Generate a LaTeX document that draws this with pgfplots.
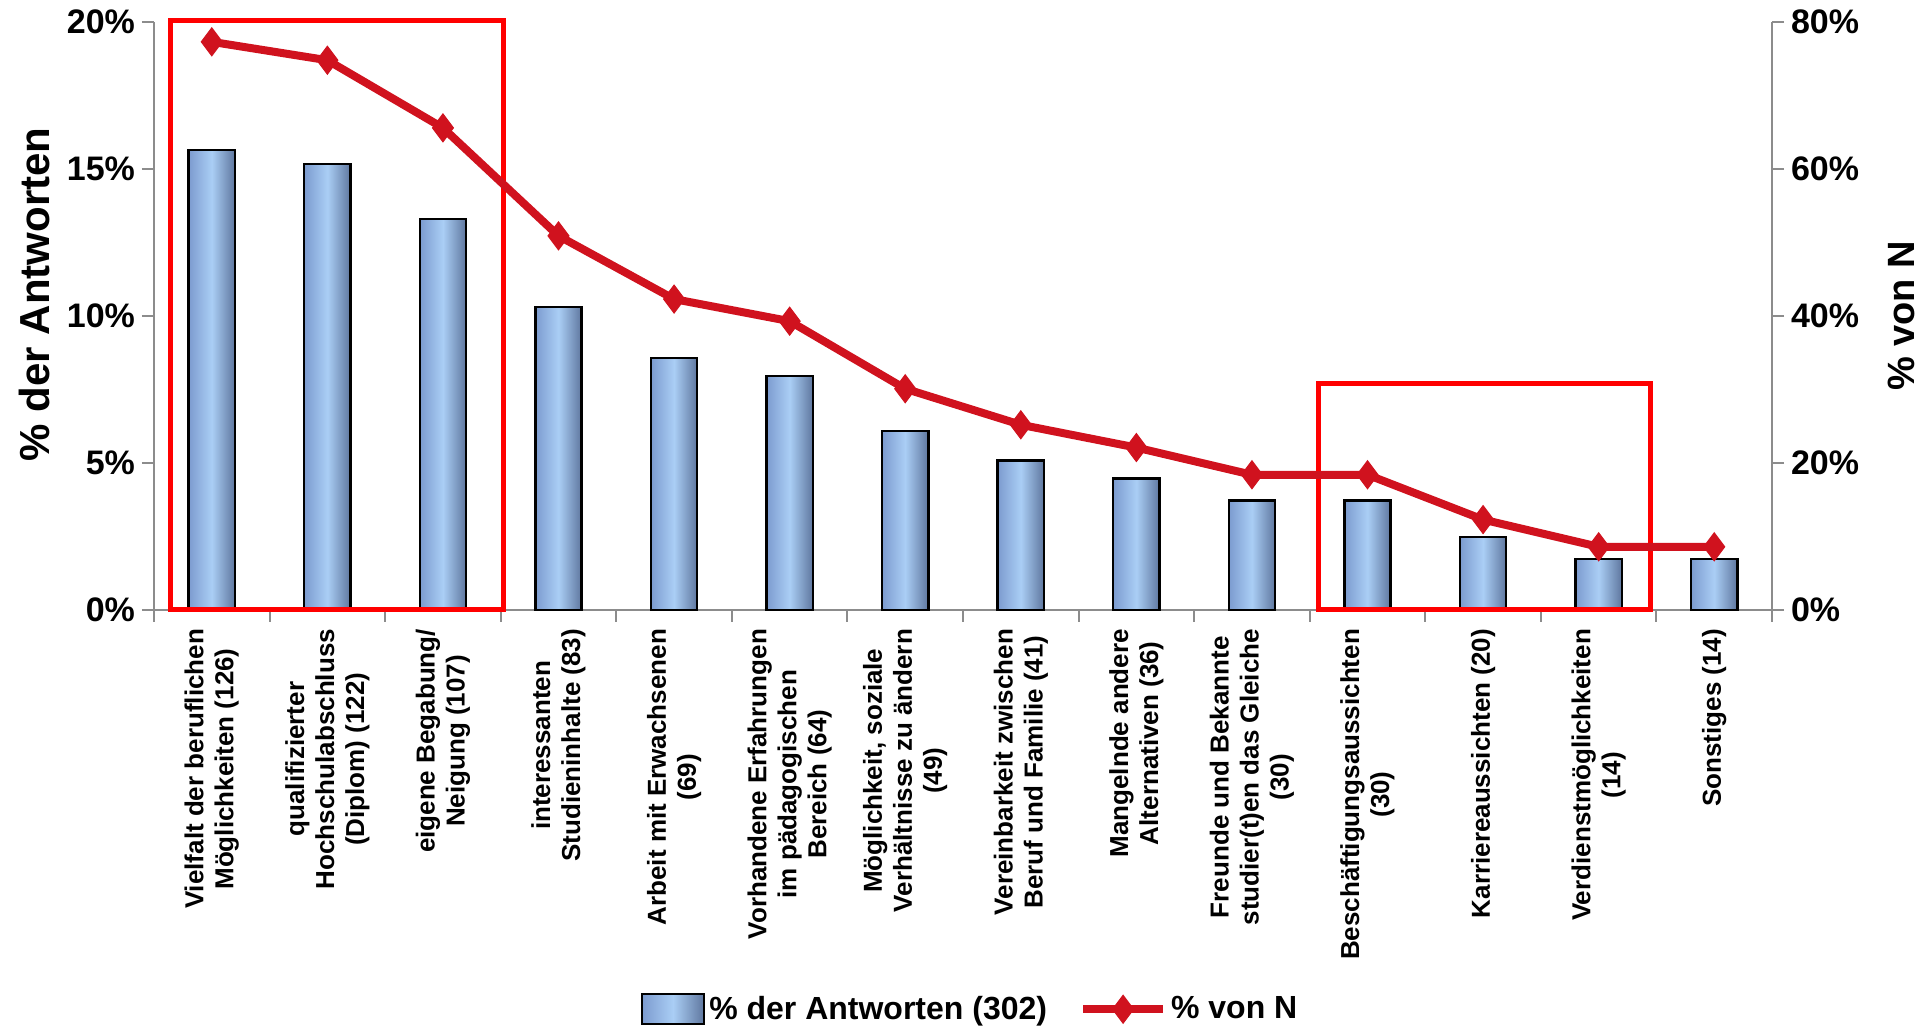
\documentclass[border=0pt]{standalone}
\usepackage{fontspec}
\setmainfont{Liberation Sans}
\usepackage{pgfplots}
\pgfplotsset{compat=1.18}
\definecolor{barL}{HTML}{7C9BCF}
\definecolor{barM}{HTML}{AACEF5}
\definecolor{barR}{HTML}{5F779F}
\definecolor{lineRed}{HTML}{D0121E}
\definecolor{axGray}{HTML}{8C8C8C}
\pgfplotsset{
  redleg/.style={legend image code/.code={\draw[mark repeat=2,mark phase=2,##1] plot coordinates {(0pt,0pt) (20pt,0pt) (40pt,0pt)};}},
  barleg/.style={legend image code/.code={\draw[draw=black, line width=1.2pt, left color=barL, right color=barR, middle color=barM] (0pt,-7.5pt) rectangle (31pt,7.5pt);}},
  mybar/.style={ybar, bar width=0.40, draw=black, line width=1.2pt, left color=barL, right color=barR, middle color=barM},
  base/.style={
    width=809pt, height=294pt, scale only axis,
    xmin=-0.5, xmax=13.5,
    axis line style={axGray, line width=1pt},
    tick style={axGray, line width=1pt},
    tick align=outside,
    major tick length=6pt,
    clip=false,
  }
}
\begin{document}
\begin{tikzpicture}
\begin{axis}[base,
  axis y line*=left, axis x line*=bottom,
  ymin=0, ymax=20,
  ytick={0,5,10,15,20},
  yticklabels={0\%,5\%,10\%,15\%,20\%},
  yticklabel style={font=\fontsize{17}{20}\selectfont\bfseries},
  xtick={0,...,13},
  major x tick style={draw=none},
  minor xtick={-0.5,0.5,...,13.5},
  minor x tick style={axGray, line width=1pt},
  minor tick length=6pt,
  xticklabels={
    {Vielfalt der beruflichen\\Möglichkeiten (126)},
    {qualifizierter\\Hochschulabschluss\\(Diplom) (122)},
    {eigene Begabung/\\Neigung (107)},
    {interessanten\\Studieninhalte (83)},
    {Arbeit mit Erwachsenen\\(69)},
    {Vorhandene Erfahrungen\\im pädagogischen\\Bereich (64)},
    {Möglichkeit, soziale\\Verhältnisse zu ändern\\(49)},
    {Vereinbarkeit zwischen\\Beruf und Familie (41)},
    {Mangelnde andere\\Alternativen (36)},
    {Freunde und Bekannte\\studier(t)en das Gleiche\\(30)},
    {Beschäftigungsaussichten\\(30)},
    {Karriereaussichten (20)},
    {Verdienstmöglichkeiten\\(14)},
    {Sonstiges (14)}},
  xticklabel style={rotate=90, anchor=east, align=center, font=\fontsize{13}{15}\selectfont\bfseries},
  ylabel={\% der Antworten},
  ylabel style={at={(axis description cs:-0.074,0.537)}, anchor=center, font=\fontsize{21}{24}\selectfont\bfseries},
]
\addplot[mybar] coordinates {(0,15.65)};
\addplot[mybar] coordinates {(1,15.16)};
\addplot[mybar] coordinates {(2,13.29)};
\addplot[mybar] coordinates {(3,10.31)};
\addplot[mybar] coordinates {(4,8.57)};
\addplot[mybar] coordinates {(5,7.95)};
\addplot[mybar] coordinates {(6,6.09)};
\addplot[mybar] coordinates {(7,5.09)};
\addplot[mybar] coordinates {(8,4.47)};
\addplot[mybar] coordinates {(9,3.73)};
\addplot[mybar] coordinates {(10,3.73)};
\addplot[mybar] coordinates {(11,2.48)};
\addplot[mybar] coordinates {(12,1.74)};
\addplot[mybar] coordinates {(13,1.74)};
\draw[red, line width=2.5pt] (axis cs:-0.36,0) rectangle (axis cs:2.52,20.05);
\draw[red, line width=2.5pt] (axis cs:9.58,0) rectangle (axis cs:12.45,7.72);
\end{axis}
\begin{axis}[base,
  axis y line*=right, axis x line=none,
  ymin=0, ymax=80,
  ytick={0,20,40,60,80},
  yticklabels={0\%,20\%,40\%,60\%,80\%},
  yticklabel style={font=\fontsize{17}{20}\selectfont\bfseries},
  ylabel={\% von N},
  ylabel style={at={(axis description cs:1.080,0.5)}, anchor=center, font=\fontsize{19}{22}\selectfont\bfseries},
  legend style={at={(axis description cs:0.505,-0.679)}, anchor=center, legend columns=-1,
    draw=none, fill=none, font=\fontsize{16}{19}\selectfont\bfseries,
    /tikz/every even column/.append style={column sep=14pt}},
]
\addlegendimage{barleg}
\addlegendentry{\% der Antworten (302)}
\addplot[lineRed, line width=4pt, mark=diamond*, mark size=7pt,
  mark options={fill=lineRed, draw=lineRed, line width=0.5pt}, redleg]
  coordinates {(0,77.3) (1,74.8) (2,65.6) (3,50.9) (4,42.3) (5,39.3) (6,30.1)
               (7,25.2) (8,22.1) (9,18.4) (10,18.4) (11,12.3) (12,8.6) (13,8.6)};
\addlegendentry{\% von N}
\end{axis}
\path ([xshift=-77pt,yshift=-210pt]current axis.south west) rectangle ([xshift=79pt,yshift=11pt]current axis.north east);
\end{tikzpicture}
\end{document}
